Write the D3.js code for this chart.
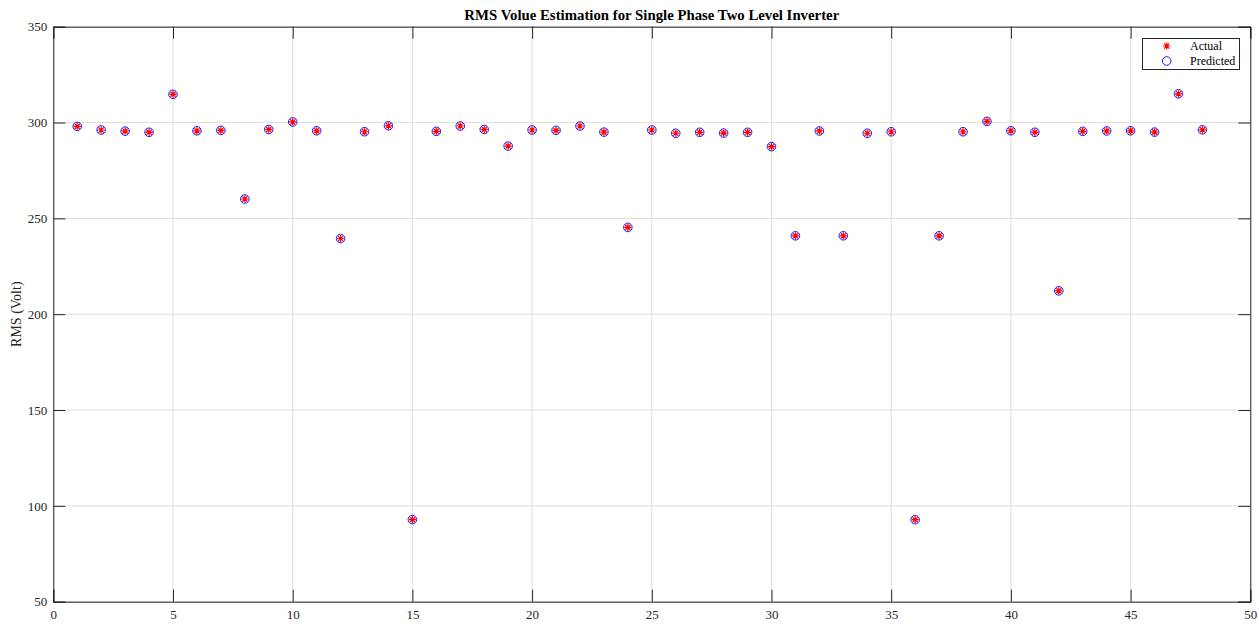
<!DOCTYPE html>
<html>
<head>
<meta charset="utf-8">
<script src="https://cdn.jsdelivr.net/npm/d3@7"></script>
<style>
  html, body { margin: 0; padding: 0; background: #fff; }
  svg { display: block; }
  text { font-family: "Liberation Serif", "Times New Roman", serif; }
</style>
</head>
<body>
<svg id="chart" width="1259" height="624"></svg>
<script>
// ---- Data ----
const samples = d3.range(1, 49);
const actual = [298.0, 296.1, 295.5, 294.9, 314.7, 295.7, 295.9, 260.1, 296.4, 300.3,
                295.7, 239.5, 295.2, 298.3, 92.8, 295.4, 298.2, 296.4, 287.7, 296.1,
                295.9, 298.2, 295.0, 245.3, 296.1, 294.4, 294.9, 294.5, 294.9, 287.4,
                240.9, 295.6, 240.9, 294.4, 295.2, 92.8, 240.9, 295.2, 300.6, 295.7,
                294.9, 212.2, 295.4, 295.6, 295.7, 295.0, 315.0, 296.2];
const predicted = [298.0, 296.1, 295.5, 294.9, 314.7, 295.7, 295.9, 260.1, 296.4, 300.3,
                295.7, 239.5, 295.2, 298.3, 92.8, 295.4, 298.2, 296.4, 287.7, 296.1,
                295.9, 298.2, 295.0, 245.3, 296.1, 294.4, 294.9, 294.5, 294.9, 287.4,
                240.9, 295.6, 240.9, 294.4, 295.2, 92.8, 240.9, 295.2, 300.6, 295.7,
                294.9, 212.2, 295.4, 295.6, 295.7, 295.0, 315.0, 296.2];
const xTicks = [0, 5, 10, 15, 20, 25, 30, 35, 40, 45, 50];
const yTicks = [50, 100, 150, 200, 250, 300, 350];
const title = "RMS Volue Estimation for Single Phase Two Level Inverter";
const yLabel = "RMS (Volt)";
const legendLabels = ["Actual", "Predicted"];

// ---- Layout ----
const L = 53.3, R = 1250.3, T = 26.7, B = 601.7;
const axisColor = "#262626";
const svg = d3.select("#chart");

const x = d3.scaleLinear().domain([0, 50]).range([L, R]);
const y = d3.scaleLinear().domain([50, 350]).range([B, T]);

// grid
const grid = svg.append("g");
grid.selectAll("line.gx").data(xTicks).join("line")
  .attr("x1", d => x(d)).attr("x2", d => x(d)).attr("y1", T).attr("y2", B)
  .attr("stroke", "#dfdfdf").attr("stroke-width", 1);
grid.selectAll("line.gy").data(yTicks).join("line")
  .attr("y1", d => y(d)).attr("y2", d => y(d)).attr("x1", L).attr("x2", R)
  .attr("stroke", "#dfdfdf").attr("stroke-width", 1);

// axes
const tickLen = 12;
const xAxisB = d3.axisBottom(x).tickValues(xTicks).tickSize(-tickLen).tickPadding(8).tickFormat(d3.format("d"));
const xAxisT = d3.axisTop(x).tickValues(xTicks).tickSize(-tickLen).tickFormat("");
const yAxisL = d3.axisLeft(y).tickValues(yTicks).tickSize(-tickLen).tickPadding(6).tickFormat(d3.format("d"));
const yAxisR = d3.axisRight(y).tickValues(yTicks).tickSize(-tickLen).tickFormat("");

function styleAxis(g) {
  g.selectAll("path.domain").attr("stroke", axisColor).attr("stroke-width", 1);
  g.selectAll(".tick line").attr("stroke", axisColor).attr("stroke-width", 1);
  g.selectAll(".tick text").attr("fill", axisColor)
    .style("font-family", "'Liberation Serif', serif").style("font-size", "13px");
}
svg.append("g").attr("transform", `translate(0,${B})`).call(xAxisB).call(styleAxis);
svg.append("g").attr("transform", `translate(0,${T})`).call(xAxisT).call(styleAxis);
svg.append("g").attr("transform", `translate(${L},0)`).call(yAxisL).call(styleAxis);
svg.append("g").attr("transform", `translate(${R},0)`).call(yAxisR).call(styleAxis);

// markers
const star = s => `M${-s},0H${s}M0,${-s}V${s}M${-s*0.72},${-s*0.72}L${s*0.72},${s*0.72}M${-s*0.72},${s*0.72}L${s*0.72},${-s*0.72}`;
const plot = svg.append("g");
plot.selectAll("path.act").data(samples).join("path")
  .attr("class", "act")
  .attr("transform", (d, i) => `translate(${x(d)},${y(actual[i])})`)
  .attr("d", star(3.6))
  .attr("stroke", "#ff0000").attr("stroke-width", 1.2).attr("fill", "none");
plot.selectAll("circle.pred").data(samples).join("circle")
  .attr("class", "pred")
  .attr("cx", d => x(d)).attr("cy", (d, i) => y(predicted[i]))
  .attr("r", 4.3)
  .attr("stroke", "#0000ff").attr("stroke-width", 0.9).attr("fill", "none");

// title
svg.append("text").attr("x", (L + R) / 2).attr("y", 20)
  .attr("text-anchor", "middle").attr("font-weight", "bold").attr("font-size", 14.8)
  .attr("fill", "#000").text(title);

// y label
svg.append("text").attr("transform", `translate(21,${(T + B) / 2}) rotate(-90)`)
  .attr("text-anchor", "middle").attr("font-size", 14).attr("fill", axisColor).text(yLabel);

// legend
const lg = svg.append("g");
lg.append("rect").attr("x", 1142.5).attr("y", 38.5).attr("width", 97).attr("height", 31)
  .attr("fill", "#fff").attr("stroke", axisColor).attr("stroke-width", 1);
const rowsY = [46, 61];
lg.append("path").attr("transform", `translate(1166.7,${rowsY[0]})`).attr("d", star(3.6))
  .attr("stroke", "#ff0000").attr("stroke-width", 1.2).attr("fill", "none");
lg.append("circle").attr("cx", 1166.7).attr("cy", rowsY[1]).attr("r", 4.3)
  .attr("stroke", "#0000ff").attr("stroke-width", 0.9).attr("fill", "none");
lg.selectAll("text.lt").data(legendLabels).join("text")
  .attr("x", 1190).attr("y", (d, i) => rowsY[i] + 4)
  .attr("font-size", 12).attr("fill", "#000").text(d => d);
</script>
</body>
</html>
